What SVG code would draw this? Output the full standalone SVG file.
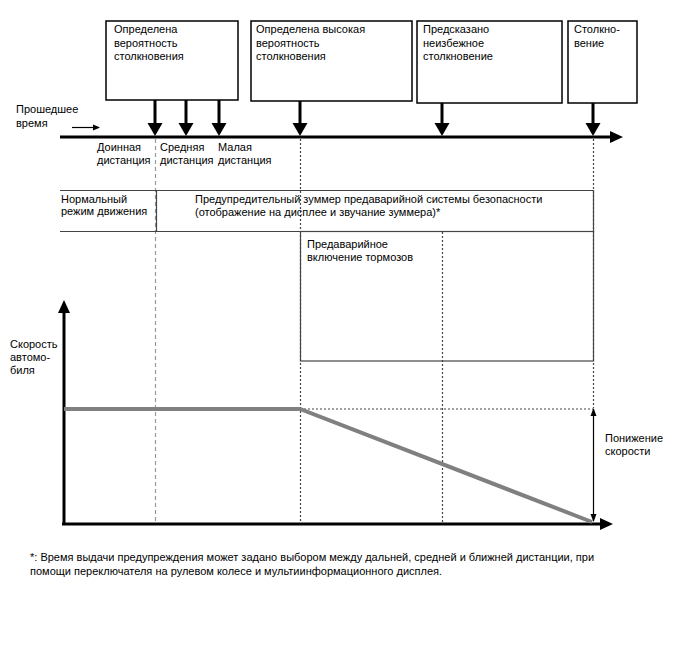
<svg xmlns="http://www.w3.org/2000/svg" width="688" height="658" viewBox="0 0 688 658">
<style>
text{font-family:"Liberation Sans",Arial,sans-serif;font-size:11px;fill:#000}
.box{fill:#fff;stroke:#000;stroke-width:1.5}
.stem{stroke:#000;stroke-width:3;fill:none}
.head{fill:#000}
.gdash{stroke:#999;stroke-width:1.2;stroke-dasharray:4,3;fill:none}
.dot{stroke:#444;stroke-width:1.2;stroke-dasharray:2,2;fill:none}
.thin{stroke:#444;stroke-width:1.2;fill:none}
.axis{stroke:#000;stroke-width:3;fill:none}
.speed{stroke:#808080;stroke-width:4;fill:none}
.foot{font-size:11px}
</style>
<defs>
<marker id="sm" markerWidth="8" markerHeight="8" refX="6" refY="4" orient="auto" markerUnits="userSpaceOnUse">
<path d="M0,1 L7,4 L0,7 Z" fill="#000"/>
</marker>
<marker id="da" markerWidth="8" markerHeight="8" refX="7" refY="4" orient="auto-start-reverse" markerUnits="userSpaceOnUse">
<path d="M0,1 L8,4 L0,7 Z" fill="#000"/>
</marker>
</defs>
<rect width="688" height="658" fill="#fff"/>

<!-- guide lines -->
<g id="guides">
<line class="gdash" x1="155.5" y1="139" x2="155.5" y2="523"/>
<line class="dot" x1="300.5" y1="139" x2="300.5" y2="523"/>
<line class="dot" x1="593.5" y1="139" x2="593.5" y2="408"/>
<line class="dot" x1="442.5" y1="232" x2="442.5" y2="523"/>
<line class="dot" x1="300" y1="409" x2="593" y2="409"/>
</g>

<!-- top event boxes -->
<g id="box1"><rect class="box" x="106" y="21" width="132" height="79"/>
<text x="114" y="33">Определена</text><text x="114" y="46.5">вероятность</text><text x="114" y="60">столкновения</text></g>
<g id="box2"><rect class="box" x="251" y="21" width="161" height="80"/>
<text x="256" y="33">Определена высокая</text><text x="256" y="46.5">вероятность</text><text x="256" y="60">столкновения</text></g>
<g id="box3"><rect class="box" x="417" y="21" width="145" height="82"/>
<text x="423" y="33">Предсказано</text><text x="423" y="46.5">неизбежное</text><text x="423" y="60">столкновение</text></g>
<g id="box4"><rect class="box" x="568" y="21" width="69" height="82"/>
<text x="574" y="33">Столкно-</text><text x="574" y="46.5">вение</text></g>

<!-- timeline -->
<g id="timeline">
<line class="axis" x1="60" y1="137" x2="612" y2="137"/>
<path class="head" d="M610,131 L623,137 L610,143 Z"/>
<text x="16" y="113">Прошедшее</text><text x="16" y="127">время</text>
<line x1="72" y1="127.5" x2="99" y2="127.5" stroke="#000" stroke-width="1.2" marker-end="url(#sm)"/>
<text x="97" y="151">Доинная</text><text x="97" y="164">дистанция</text>
<text x="160" y="151">Средняя</text><text x="160" y="164">дистанция</text>
<text x="218" y="151">Малая</text><text x="218" y="164">дистанция</text>
</g>

<!-- event arrows -->
<g id="connectors">
<line class="stem" x1="155" y1="100" x2="155" y2="124"/><path class="head" d="M147.5,123 L162.5,123 L155,136 Z"/>
<line class="stem" x1="186" y1="100" x2="186" y2="124"/><path class="head" d="M178.5,123 L193.5,123 L186,136 Z"/>
<line class="stem" x1="219" y1="100" x2="219" y2="124"/><path class="head" d="M211.5,123 L226.5,123 L219,136 Z"/>
<line class="stem" x1="300" y1="101" x2="300" y2="124"/><path class="head" d="M292.5,123 L307.5,123 L300,136 Z"/>
<line class="stem" x1="442" y1="103" x2="442" y2="124"/><path class="head" d="M434.5,123 L449.5,123 L442,136 Z"/>
<line class="stem" x1="593" y1="103" x2="593" y2="124"/><path class="head" d="M585.5,123 L600.5,123 L593,136 Z"/>
</g>

<!-- status band -->
<g id="band">
<line class="thin" x1="60" y1="190.5" x2="594" y2="190.5"/>
<line class="thin" x1="60" y1="231.5" x2="594" y2="231.5"/>
<line class="thin" x1="156.5" y1="190" x2="156.5" y2="232"/>
<line class="thin" x1="593.5" y1="190" x2="593.5" y2="232"/>
<text x="61" y="203">Нормальный</text><text x="61" y="215">режим движения</text>
<text x="195" y="203">Предупредительный зуммер предаварийной системы безопасности</text>
<text x="195" y="216">(отображение на дисплее и звучание зуммера)*</text>
</g>

<g id="brake">
<rect x="300.5" y="231.5" width="293" height="129.5" fill="none" stroke="#444" stroke-width="1.2"/>
<text x="307" y="248">Предаварийное</text><text x="307" y="261">включение тормозов</text>
</g>

<!-- speed chart -->
<g id="chart">
<line class="axis" x1="64" y1="310" x2="64" y2="525"/>
<path class="head" d="M58,313 L64,300 L70,313 Z"/>
<line class="axis" x1="62" y1="524" x2="602" y2="524"/>
<path class="head" d="M600,518 L613,524 L600,530 Z"/>
<polyline class="speed" points="64,409 300,409 592,522"/>
<line x1="593.5" y1="409" x2="593.5" y2="521" stroke="#000" stroke-width="1.2" marker-start="url(#da)" marker-end="url(#da)"/>
<text x="10" y="348">Скорость</text><text x="10" y="361">автомо-</text><text x="10" y="374">биля</text>
<text x="605" y="442">Понижение</text><text x="605" y="455">скорости</text>
</g>

<g id="footnote">
<text class="foot" x="30" y="561">*: Время выдачи предупреждения может задано выбором между дальней, средней и ближней дистанции, при</text>
<text class="foot" x="30" y="575">помощи переключателя на рулевом колесе и мультиинформационного дисплея.</text>
</g>
</svg>
